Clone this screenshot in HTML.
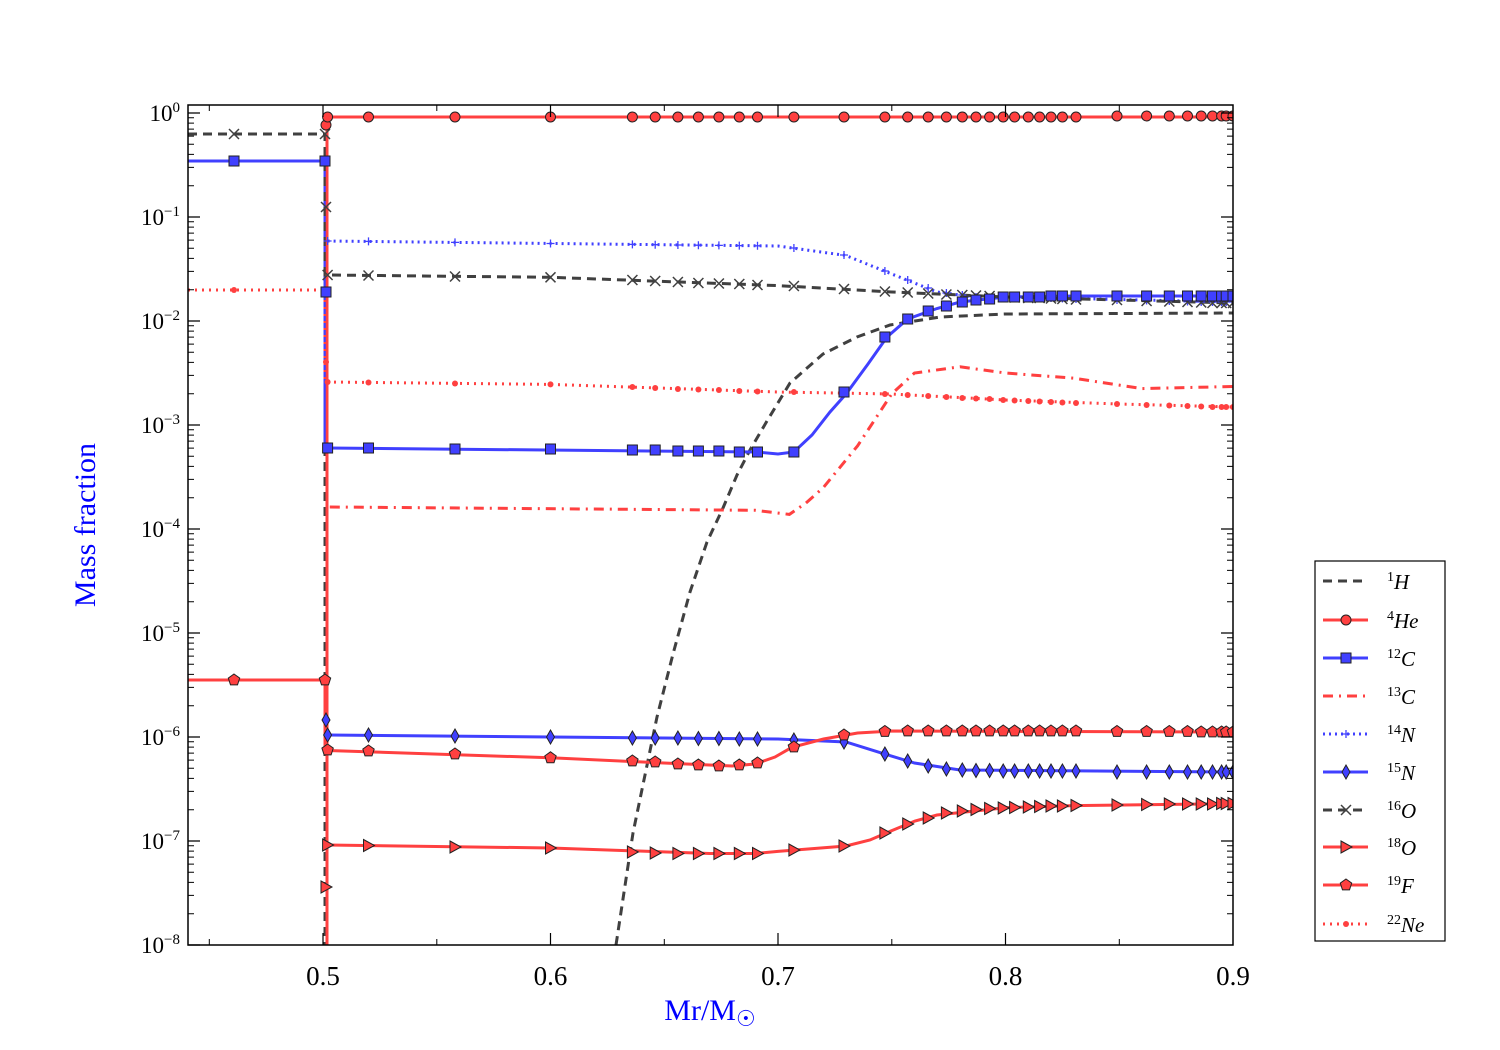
<!DOCTYPE html>
<html><head><meta charset="utf-8"><style>
html,body{margin:0;padding:0;background:#fff;}
svg{display:block;font-family:"Liberation Serif",serif;}
</style></head><body>
<svg width="1500" height="1050" xmlns="http://www.w3.org/2000/svg" xmlns:xlink="http://www.w3.org/1999/xlink">
<defs>
<clipPath id="c"><rect x="188" y="105" width="1045" height="840"/></clipPath>
<g id="mo"><circle cx="0" cy="0" r="5" fill="#ff4040" stroke="#222" stroke-width="1"/></g>
<g id="ms"><rect x="-5" y="-5" width="10" height="10" fill="#4040ff" stroke="#222" stroke-width="1"/></g>
<g id="md"><polygon points="0,-7 4,0 0,7 -4,0" fill="#4040ff" stroke="#222" stroke-width="1"/></g>
<g id="mt"><polygon points="-5,-6 6,0 -5,6" fill="#ff4040" stroke="#222" stroke-width="1"/></g>
<g id="mp"><polygon points="0,-6 5.7,-1.9 3.5,4.9 -3.5,4.9 -5.7,-1.9" fill="#ff4040" stroke="#222" stroke-width="1"/></g>
<g id="mx"><path d="M-5 -5L5 5M-5 5L5 -5" stroke="#404040" stroke-width="1.5"/></g>
<g id="mplus"><path d="M-4 0H4M0 -4V4" stroke="#4040ff" stroke-width="1.3"/></g>
<g id="mdot"><circle cx="0" cy="0" r="3" fill="#ff4040"/></g>
<g id="minor"><path d="M0 -31.3h6M0 -49.6h6M0 -62.6h6M0 -72.7h6M0 -80.9h6M0 -87.9h6M0 -93.9h6M0 -99.2h6M1045 -31.3h-6M1045 -49.6h-6M1045 -62.6h-6M1045 -72.7h-6M1045 -80.9h-6M1045 -87.9h-6M1045 -93.9h-6M1045 -99.2h-6" stroke="#000" stroke-width="1"/></g>
</defs>

<g clip-path="url(#c)" fill="none" stroke-width="3">
<!-- H1 -->
<path d="M188 134 H325 V945 M616 945 L633 833 L657 717 L673 654 L690 592 L707 542 L723 508 L737 475 L750 450 L767 421 L790 383 L823 354 L857 337 L890 325 L940 317 L1005 314 L1233 313" stroke="#404040" stroke-dasharray="9,6"/>
<!-- He4 -->
<path d="M327 945 V117 H1233" stroke="#ff4040"/>
<!-- C12 -->
<path d="M188 161 H325 V448 L327.6 448 L757 452 L778 454 L793.9 452 L812 435 L830 412 L846 394 L868 364 L887 337 L907.7 319 L937 308.5 L960 302 L1005.5 297 L1073.8 296 L1233 296" stroke="#4040ff"/>
<!-- C13 -->
<path d="M329.8 507 L755.3 510.3 L789.4 514.4 L806 503 L823.5 487.4 L857.6 445.8 L891.8 393.8 L914.5 373 L960 366.8 L1005.5 373 L1073.8 378.2 L1142 388.6 L1233 386.5" stroke="#ff4040" stroke-dasharray="10,6,2,6"/>
<!-- N14 -->
<path d="M327.6 241 L778 246 L846 255.5 L891.8 274 L937 292 L982.8 298 L1005.5 297 L1233 302" stroke="#4040ff" stroke-dasharray="2,4"/>
<!-- N15 -->
<path d="M326 720 V735 L327.6 735 L778 739 L846 742 L880 752.6 L914.5 763 L960 770 L1233 772" stroke="#4040ff"/>
<!-- O16 -->
<path d="M188 134 H325 V275 L327.6 275 L550.5 277.3 L778 285.6 L891.8 292 L960 295 L1005.5 297 L1119 300 L1233 303" stroke="#404040" stroke-dasharray="9,6"/>
<!-- O18 -->
<path d="M327.6 845 L550.5 848 L709.8 853.5 L755 853.5 L778 851.4 L846 846 L870 840 L891.8 830.6 L915 821 L937 815 L1005.5 807.7 L1073.8 805.6 L1233 803.6" stroke="#ff4040"/>
<!-- F19 -->
<path d="M188 680 H325 V750 L327.6 750.5 L550.5 757.8 L664 763 L732 766 L755 764 L775 757 L791.7 747.4 L823.5 739 L857.6 733 L891.8 731 L1233 732" stroke="#ff4040"/>
<!-- Ne22 -->
<path d="M188 290 H325 V382 L327.6 382 L550.5 384.4 L778 392 L891.8 394 L1005.5 400 L1119 404 L1233 407" stroke="#ff4040" stroke-dasharray="2,5"/>
<path d="M327 945 V120" stroke="#ff4040" stroke-width="2.5"/>
</g>

<g clip-path="url(#c)">
<use xlink:href="#mdot" x="234" y="290"/><use xlink:href="#mdot" x="326" y="290"/><use xlink:href="#mdot" x="326" y="362"/>
<use xlink:href="#mdot" x="327.6" y="382"/><use xlink:href="#mdot" x="368.5" y="382.5"/><use xlink:href="#mdot" x="455" y="383.5"/><use xlink:href="#mdot" x="550.5" y="384.4"/><use xlink:href="#mdot" x="632.4" y="387"/><use xlink:href="#mdot" x="655.2" y="388"/><use xlink:href="#mdot" x="677.9" y="389"/><use xlink:href="#mdot" x="698.4" y="389.5"/><use xlink:href="#mdot" x="718.9" y="390"/><use xlink:href="#mdot" x="739.3" y="391"/><use xlink:href="#mdot" x="757.5" y="391.5"/><use xlink:href="#mdot" x="793.9" y="392"/><use xlink:href="#mdot" x="844" y="393"/><use xlink:href="#mdot" x="884.9" y="394"/><use xlink:href="#mdot" x="907.7" y="395"/><use xlink:href="#mdot" x="928.2" y="396"/><use xlink:href="#mdot" x="946.4" y="397"/><use xlink:href="#mdot" x="962.3" y="398"/><use xlink:href="#mdot" x="976" y="398.5"/><use xlink:href="#mdot" x="989.6" y="399"/><use xlink:href="#mdot" x="1003.2" y="400"/><use xlink:href="#mdot" x="1014.6" y="400.5"/><use xlink:href="#mdot" x="1028.3" y="401"/><use xlink:href="#mdot" x="1039.6" y="401.5"/><use xlink:href="#mdot" x="1051" y="402"/><use xlink:href="#mdot" x="1062.4" y="402.5"/><use xlink:href="#mdot" x="1076" y="403"/><use xlink:href="#mdot" x="1117" y="404"/><use xlink:href="#mdot" x="1146.6" y="405"/><use xlink:href="#mdot" x="1169.3" y="405.5"/><use xlink:href="#mdot" x="1187.5" y="406"/><use xlink:href="#mdot" x="1201.2" y="406.5"/><use xlink:href="#mdot" x="1212.5" y="407"/><use xlink:href="#mdot" x="1221.6" y="407"/><use xlink:href="#mdot" x="1226.2" y="407"/><use xlink:href="#mdot" x="1233" y="407"/>
<use xlink:href="#mplus" x="327.6" y="241"/><use xlink:href="#mplus" x="368.5" y="241.4"/><use xlink:href="#mplus" x="455" y="242.4"/><use xlink:href="#mplus" x="550.5" y="243.5"/><use xlink:href="#mplus" x="632.4" y="244.4"/><use xlink:href="#mplus" x="655.2" y="244.7"/><use xlink:href="#mplus" x="677.9" y="245"/><use xlink:href="#mplus" x="698.4" y="245.2"/><use xlink:href="#mplus" x="718.9" y="245.4"/><use xlink:href="#mplus" x="739.3" y="245.6"/><use xlink:href="#mplus" x="757.5" y="245.8"/><use xlink:href="#mplus" x="793.9" y="248"/><use xlink:href="#mplus" x="844" y="255"/><use xlink:href="#mplus" x="884.9" y="271"/><use xlink:href="#mplus" x="907.7" y="280"/><use xlink:href="#mplus" x="928.2" y="288"/><use xlink:href="#mplus" x="946.4" y="293"/><use xlink:href="#mplus" x="962.3" y="295"/><use xlink:href="#mplus" x="976" y="297"/><use xlink:href="#mplus" x="989.6" y="298"/><use xlink:href="#mplus" x="1003.2" y="297"/><use xlink:href="#mplus" x="1014.6" y="297"/><use xlink:href="#mplus" x="1028.3" y="297.5"/><use xlink:href="#mplus" x="1039.6" y="298"/><use xlink:href="#mplus" x="1051" y="298"/><use xlink:href="#mplus" x="1062.4" y="298.5"/><use xlink:href="#mplus" x="1076" y="299"/><use xlink:href="#mplus" x="1117" y="300"/><use xlink:href="#mplus" x="1146.6" y="300.5"/><use xlink:href="#mplus" x="1169.3" y="301"/><use xlink:href="#mplus" x="1187.5" y="301.5"/><use xlink:href="#mplus" x="1201.2" y="302"/><use xlink:href="#mplus" x="1212.5" y="302"/><use xlink:href="#mplus" x="1221.6" y="302"/><use xlink:href="#mplus" x="1226.2" y="302"/><use xlink:href="#mplus" x="1233" y="302"/>
<use xlink:href="#mx" x="234" y="134"/><use xlink:href="#mx" x="325" y="134"/><use xlink:href="#mx" x="326" y="207"/>
<use xlink:href="#mx" x="327.6" y="275"/><use xlink:href="#mx" x="368.5" y="275.5"/><use xlink:href="#mx" x="455" y="276.5"/><use xlink:href="#mx" x="550.5" y="277.3"/><use xlink:href="#mx" x="632.4" y="280"/><use xlink:href="#mx" x="655.2" y="281"/><use xlink:href="#mx" x="677.9" y="282"/><use xlink:href="#mx" x="698.4" y="283"/><use xlink:href="#mx" x="718.9" y="283.5"/><use xlink:href="#mx" x="739.3" y="284"/><use xlink:href="#mx" x="757.5" y="285"/><use xlink:href="#mx" x="793.9" y="286"/><use xlink:href="#mx" x="844" y="289"/><use xlink:href="#mx" x="884.9" y="291.5"/><use xlink:href="#mx" x="907.7" y="292.5"/><use xlink:href="#mx" x="928.2" y="293.5"/><use xlink:href="#mx" x="946.4" y="294.5"/><use xlink:href="#mx" x="962.3" y="295"/><use xlink:href="#mx" x="976" y="295.5"/><use xlink:href="#mx" x="989.6" y="296"/><use xlink:href="#mx" x="1003.2" y="297"/><use xlink:href="#mx" x="1014.6" y="297.5"/><use xlink:href="#mx" x="1028.3" y="298"/><use xlink:href="#mx" x="1039.6" y="298"/><use xlink:href="#mx" x="1051" y="298.5"/><use xlink:href="#mx" x="1062.4" y="299"/><use xlink:href="#mx" x="1076" y="299.5"/><use xlink:href="#mx" x="1117" y="300"/><use xlink:href="#mx" x="1146.6" y="301"/><use xlink:href="#mx" x="1169.3" y="301.5"/><use xlink:href="#mx" x="1187.5" y="302"/><use xlink:href="#mx" x="1201.2" y="302.5"/><use xlink:href="#mx" x="1212.5" y="303"/><use xlink:href="#mx" x="1221.6" y="303"/><use xlink:href="#mx" x="1226.2" y="303"/><use xlink:href="#mx" x="1233" y="303"/>
<use xlink:href="#mo" x="326" y="125"/>
<use xlink:href="#mo" x="327.6" y="117"/><use xlink:href="#mo" x="368.5" y="117"/><use xlink:href="#mo" x="455" y="117"/><use xlink:href="#mo" x="550.5" y="117"/><use xlink:href="#mo" x="632.4" y="117"/><use xlink:href="#mo" x="655.2" y="117"/><use xlink:href="#mo" x="677.9" y="117"/><use xlink:href="#mo" x="698.4" y="117"/><use xlink:href="#mo" x="718.9" y="117"/><use xlink:href="#mo" x="739.3" y="117"/><use xlink:href="#mo" x="757.5" y="117"/><use xlink:href="#mo" x="793.9" y="117"/><use xlink:href="#mo" x="844" y="117"/><use xlink:href="#mo" x="884.9" y="117"/><use xlink:href="#mo" x="907.7" y="117"/><use xlink:href="#mo" x="928.2" y="117"/><use xlink:href="#mo" x="946.4" y="117"/><use xlink:href="#mo" x="962.3" y="117"/><use xlink:href="#mo" x="976" y="117"/><use xlink:href="#mo" x="989.6" y="117"/><use xlink:href="#mo" x="1003.2" y="117"/><use xlink:href="#mo" x="1014.6" y="117"/><use xlink:href="#mo" x="1028.3" y="117"/><use xlink:href="#mo" x="1039.6" y="117"/><use xlink:href="#mo" x="1051" y="117"/><use xlink:href="#mo" x="1062.4" y="117"/><use xlink:href="#mo" x="1076" y="117"/><use xlink:href="#mo" x="1117" y="116"/><use xlink:href="#mo" x="1146.6" y="116"/><use xlink:href="#mo" x="1169.3" y="116"/><use xlink:href="#mo" x="1187.5" y="116"/><use xlink:href="#mo" x="1201.2" y="116"/><use xlink:href="#mo" x="1212.5" y="116"/><use xlink:href="#mo" x="1221.6" y="116"/><use xlink:href="#mo" x="1226.2" y="116"/><use xlink:href="#mo" x="1233" y="116"/>
<use xlink:href="#ms" x="234" y="161"/><use xlink:href="#ms" x="325" y="161"/><use xlink:href="#ms" x="326" y="292"/>
<use xlink:href="#ms" x="327.6" y="448"/><use xlink:href="#ms" x="368.5" y="448"/><use xlink:href="#ms" x="455" y="449"/><use xlink:href="#ms" x="550.5" y="449"/><use xlink:href="#ms" x="632.4" y="450"/><use xlink:href="#ms" x="655.2" y="450"/><use xlink:href="#ms" x="677.9" y="451"/><use xlink:href="#ms" x="698.4" y="451"/><use xlink:href="#ms" x="718.9" y="451"/><use xlink:href="#ms" x="739.3" y="452"/><use xlink:href="#ms" x="757.5" y="452"/><use xlink:href="#ms" x="793.9" y="452"/><use xlink:href="#ms" x="844" y="392"/><use xlink:href="#ms" x="884.9" y="337"/><use xlink:href="#ms" x="907.7" y="319"/><use xlink:href="#ms" x="928.2" y="311"/><use xlink:href="#ms" x="946.4" y="306"/><use xlink:href="#ms" x="962.3" y="302"/><use xlink:href="#ms" x="976" y="300"/><use xlink:href="#ms" x="989.6" y="299"/><use xlink:href="#ms" x="1003.2" y="297"/><use xlink:href="#ms" x="1014.6" y="297"/><use xlink:href="#ms" x="1028.3" y="297"/><use xlink:href="#ms" x="1039.6" y="297"/><use xlink:href="#ms" x="1051" y="296"/><use xlink:href="#ms" x="1062.4" y="296"/><use xlink:href="#ms" x="1076" y="296"/><use xlink:href="#ms" x="1117" y="296"/><use xlink:href="#ms" x="1146.6" y="296"/><use xlink:href="#ms" x="1169.3" y="296"/><use xlink:href="#ms" x="1187.5" y="296"/><use xlink:href="#ms" x="1201.2" y="296"/><use xlink:href="#ms" x="1212.5" y="296"/><use xlink:href="#ms" x="1221.6" y="296"/><use xlink:href="#ms" x="1226.2" y="296"/><use xlink:href="#ms" x="1233" y="296"/>
<use xlink:href="#md" x="326" y="720"/>
<use xlink:href="#md" x="327.6" y="735"/><use xlink:href="#md" x="368.5" y="735"/><use xlink:href="#md" x="455" y="736"/><use xlink:href="#md" x="550.5" y="737"/><use xlink:href="#md" x="632.4" y="738"/><use xlink:href="#md" x="655.2" y="738"/><use xlink:href="#md" x="677.9" y="738"/><use xlink:href="#md" x="698.4" y="738.5"/><use xlink:href="#md" x="718.9" y="738.5"/><use xlink:href="#md" x="739.3" y="739"/><use xlink:href="#md" x="757.5" y="739"/><use xlink:href="#md" x="793.9" y="740"/><use xlink:href="#md" x="844" y="742"/><use xlink:href="#md" x="884.9" y="754"/><use xlink:href="#md" x="907.7" y="761"/><use xlink:href="#md" x="928.2" y="766"/><use xlink:href="#md" x="946.4" y="769"/><use xlink:href="#md" x="962.3" y="770"/><use xlink:href="#md" x="976" y="770.5"/><use xlink:href="#md" x="989.6" y="770.5"/><use xlink:href="#md" x="1003.2" y="771"/><use xlink:href="#md" x="1014.6" y="771"/><use xlink:href="#md" x="1028.3" y="771"/><use xlink:href="#md" x="1039.6" y="771"/><use xlink:href="#md" x="1051" y="771"/><use xlink:href="#md" x="1062.4" y="771"/><use xlink:href="#md" x="1076" y="771"/><use xlink:href="#md" x="1117" y="772"/><use xlink:href="#md" x="1146.6" y="772"/><use xlink:href="#md" x="1169.3" y="772"/><use xlink:href="#md" x="1187.5" y="772"/><use xlink:href="#md" x="1201.2" y="772"/><use xlink:href="#md" x="1212.5" y="772"/><use xlink:href="#md" x="1221.6" y="772"/><use xlink:href="#md" x="1226.2" y="772"/><use xlink:href="#md" x="1233" y="772"/>
<use xlink:href="#mt" x="326" y="887"/>
<use xlink:href="#mt" x="327.6" y="845"/><use xlink:href="#mt" x="368.5" y="845.5"/><use xlink:href="#mt" x="455" y="847"/><use xlink:href="#mt" x="550.5" y="848"/><use xlink:href="#mt" x="632.4" y="852"/><use xlink:href="#mt" x="655.2" y="853"/><use xlink:href="#mt" x="677.9" y="853.5"/><use xlink:href="#mt" x="698.4" y="853.5"/><use xlink:href="#mt" x="718.9" y="853.5"/><use xlink:href="#mt" x="739.3" y="853.5"/><use xlink:href="#mt" x="757.5" y="853.5"/><use xlink:href="#mt" x="793.9" y="850"/><use xlink:href="#mt" x="844" y="846"/><use xlink:href="#mt" x="884.9" y="833"/><use xlink:href="#mt" x="907.7" y="824"/><use xlink:href="#mt" x="928.2" y="818"/><use xlink:href="#mt" x="946.4" y="813"/><use xlink:href="#mt" x="962.3" y="811"/><use xlink:href="#mt" x="976" y="809.5"/><use xlink:href="#mt" x="989.6" y="808.5"/><use xlink:href="#mt" x="1003.2" y="808"/><use xlink:href="#mt" x="1014.6" y="807.5"/><use xlink:href="#mt" x="1028.3" y="807"/><use xlink:href="#mt" x="1039.6" y="806.5"/><use xlink:href="#mt" x="1051" y="806"/><use xlink:href="#mt" x="1062.4" y="806"/><use xlink:href="#mt" x="1076" y="805.5"/><use xlink:href="#mt" x="1117" y="805"/><use xlink:href="#mt" x="1146.6" y="804.5"/><use xlink:href="#mt" x="1169.3" y="804"/><use xlink:href="#mt" x="1187.5" y="804"/><use xlink:href="#mt" x="1201.2" y="804"/><use xlink:href="#mt" x="1212.5" y="804"/><use xlink:href="#mt" x="1221.6" y="803.5"/><use xlink:href="#mt" x="1226.2" y="803.5"/><use xlink:href="#mt" x="1233" y="803.5"/>
<use xlink:href="#mp" x="234" y="680"/><use xlink:href="#mp" x="325" y="680"/>
<use xlink:href="#mp" x="327.6" y="750"/><use xlink:href="#mp" x="368.5" y="751"/><use xlink:href="#mp" x="455" y="754"/><use xlink:href="#mp" x="550.5" y="757.8"/><use xlink:href="#mp" x="632.4" y="761"/><use xlink:href="#mp" x="655.2" y="762"/><use xlink:href="#mp" x="677.9" y="764"/><use xlink:href="#mp" x="698.4" y="765"/><use xlink:href="#mp" x="718.9" y="766"/><use xlink:href="#mp" x="739.3" y="765"/><use xlink:href="#mp" x="757.5" y="763"/><use xlink:href="#mp" x="793.9" y="747"/><use xlink:href="#mp" x="844" y="735"/><use xlink:href="#mp" x="884.9" y="731.5"/><use xlink:href="#mp" x="907.7" y="731"/><use xlink:href="#mp" x="928.2" y="731"/><use xlink:href="#mp" x="946.4" y="731"/><use xlink:href="#mp" x="962.3" y="731"/><use xlink:href="#mp" x="976" y="731"/><use xlink:href="#mp" x="989.6" y="731"/><use xlink:href="#mp" x="1003.2" y="731"/><use xlink:href="#mp" x="1014.6" y="731"/><use xlink:href="#mp" x="1028.3" y="731"/><use xlink:href="#mp" x="1039.6" y="731"/><use xlink:href="#mp" x="1051" y="731"/><use xlink:href="#mp" x="1062.4" y="731"/><use xlink:href="#mp" x="1076" y="731"/><use xlink:href="#mp" x="1117" y="731.5"/><use xlink:href="#mp" x="1146.6" y="731.5"/><use xlink:href="#mp" x="1169.3" y="731.5"/><use xlink:href="#mp" x="1187.5" y="731.5"/><use xlink:href="#mp" x="1201.2" y="732"/><use xlink:href="#mp" x="1212.5" y="732"/><use xlink:href="#mp" x="1221.6" y="732"/><use xlink:href="#mp" x="1226.2" y="732"/><use xlink:href="#mp" x="1233" y="732"/>
</g>

<rect x="188" y="105" width="1045" height="840" fill="none" stroke="#000" stroke-width="1.5"/>
<path d="M188 113h12M188 217h12M188 321h12M188 425h12M188 529h12M188 633h12M188 737h12M188 841h12M188 945h12M1233 113h-12M1233 217h-12M1233 321h-12M1233 425h-12M1233 529h-12M1233 633h-12M1233 737h-12M1233 841h-12" stroke="#000" stroke-width="1.2"/>
<use xlink:href="#minor" x="188" y="217"/><use xlink:href="#minor" x="188" y="321"/><use xlink:href="#minor" x="188" y="425"/><use xlink:href="#minor" x="188" y="529"/><use xlink:href="#minor" x="188" y="633"/><use xlink:href="#minor" x="188" y="737"/><use xlink:href="#minor" x="188" y="841"/><use xlink:href="#minor" x="188" y="945"/>
<path d="M323 945v-12M550.5 945v-12M778 945v-12M1005.5 945v-12M323 105v12M550.5 105v12M778 105v12M1005.5 105v12" stroke="#000" stroke-width="1.2"/>
<path d="M209.3 945v-6M436.8 945v-6M664.3 945v-6M891.8 945v-6M1119.3 945v-6M209.3 105v6M436.8 105v6M664.3 105v6M891.8 105v6M1119.3 105v6" stroke="#000" stroke-width="1"/>

<g font-size="23" text-anchor="end">
<text x="180" y="121">10<tspan dy="-9" font-size="15">0</tspan></text>
<text x="180" y="225">10<tspan dy="-9" font-size="15">−1</tspan></text>
<text x="180" y="329">10<tspan dy="-9" font-size="15">−2</tspan></text>
<text x="180" y="433">10<tspan dy="-9" font-size="15">−3</tspan></text>
<text x="180" y="537">10<tspan dy="-9" font-size="15">−4</tspan></text>
<text x="180" y="641">10<tspan dy="-9" font-size="15">−5</tspan></text>
<text x="180" y="745">10<tspan dy="-9" font-size="15">−6</tspan></text>
<text x="180" y="849">10<tspan dy="-9" font-size="15">−7</tspan></text>
<text x="180" y="953">10<tspan dy="-9" font-size="15">−8</tspan></text>
</g>
<g font-size="27" text-anchor="middle">
<text x="323" y="985">0.5</text><text x="550.5" y="985">0.6</text><text x="778" y="985">0.7</text><text x="1005.5" y="985">0.8</text><text x="1233" y="985">0.9</text>
</g>
<text x="95" y="525" font-size="30" fill="#0000ff" text-anchor="middle" transform="rotate(-90 95 525)">Mass fraction</text>
<text x="710" y="1020" font-size="30" fill="#0000ff" text-anchor="middle">Mr/M<tspan font-size="22" dy="6">☉</tspan></text>

<rect x="1315" y="561" width="130" height="380" fill="#fff" stroke="#000" stroke-width="1.2"/>
<g fill="none" stroke-width="3">
<path d="M1323 581H1368" stroke="#404040" stroke-dasharray="9,6"/>
<path d="M1323 620H1368" stroke="#ff4040"/>
<path d="M1323 658H1368" stroke="#4040ff"/>
<path d="M1323 696H1368" stroke="#ff4040" stroke-dasharray="10,6,2,6"/>
<path d="M1323 734H1368" stroke="#4040ff" stroke-dasharray="2,4"/>
<path d="M1323 772H1368" stroke="#4040ff"/>
<path d="M1323 810H1368" stroke="#404040" stroke-dasharray="9,6"/>
<path d="M1323 847H1368" stroke="#ff4040"/>
<path d="M1323 885H1368" stroke="#ff4040"/>
<path d="M1323 924H1368" stroke="#ff4040" stroke-dasharray="2,5"/>
</g>
<use xlink:href="#mo" x="1346" y="620"/><use xlink:href="#ms" x="1346" y="658"/><use xlink:href="#mplus" x="1346" y="734"/><use xlink:href="#md" x="1346" y="772"/><use xlink:href="#mx" x="1346" y="810"/><use xlink:href="#mt" x="1346" y="847"/><use xlink:href="#mp" x="1346" y="885"/><use xlink:href="#mdot" x="1346" y="924"/>
<g font-size="21">
<text x="1387" y="589"><tspan font-size="14" dy="-8">1</tspan><tspan dy="8" font-style="italic">H</tspan></text>
<text x="1387" y="628"><tspan font-size="14" dy="-8">4</tspan><tspan dy="8" font-style="italic">He</tspan></text>
<text x="1387" y="666"><tspan font-size="14" dy="-8">12</tspan><tspan dy="8" font-style="italic">C</tspan></text>
<text x="1387" y="704"><tspan font-size="14" dy="-8">13</tspan><tspan dy="8" font-style="italic">C</tspan></text>
<text x="1387" y="742"><tspan font-size="14" dy="-8">14</tspan><tspan dy="8" font-style="italic">N</tspan></text>
<text x="1387" y="780"><tspan font-size="14" dy="-8">15</tspan><tspan dy="8" font-style="italic">N</tspan></text>
<text x="1387" y="818"><tspan font-size="14" dy="-8">16</tspan><tspan dy="8" font-style="italic">O</tspan></text>
<text x="1387" y="855"><tspan font-size="14" dy="-8">18</tspan><tspan dy="8" font-style="italic">O</tspan></text>
<text x="1387" y="893"><tspan font-size="14" dy="-8">19</tspan><tspan dy="8" font-style="italic">F</tspan></text>
<text x="1387" y="932"><tspan font-size="14" dy="-8">22</tspan><tspan dy="8" font-style="italic">Ne</tspan></text>
</g>
</svg>
</body></html>
